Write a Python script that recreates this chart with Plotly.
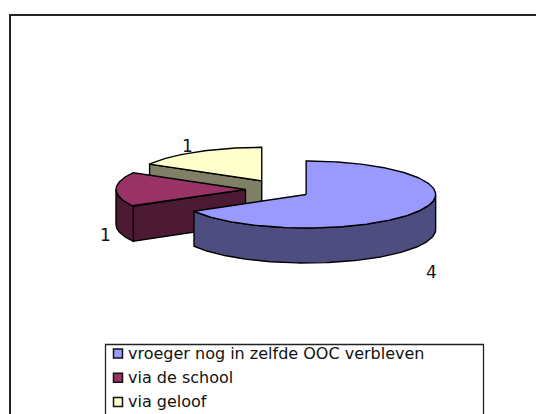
import numpy as np
import plotly.graph_objects as go

categories = ["vroeger nog in zelfde OOC verbleven", "via de school", "via geloof"]
values = [4, 1, 1]
top_colors = ["#9999FF", "#993366", "#FFFFCC"]
side_colors = ["#4D4D80", "#4D1A33", "#808066"]

W, H = 536, 414
CX, CY = 278.0, 189.5      # pie centre in pixels
RX, RY = 129.5, 33.5       # ellipse radii
DEPTH = 35.0               # extrusion
EXPLODE_X, EXPLODE_Y = 32.5, 10.0
LABEL_POS = [(431, 272), (105, 235), (187, 146)]
TEXT = "#111111"
FONT = "DejaVu Sans"

fig = go.Figure()


def poly(xs, ys, fill):
    fig.add_trace(go.Scatter(x=xs, y=ys, mode="lines", fill="toself", fillcolor=fill,
                             line=dict(color="#000000", width=1.4), hoverinfo="skip",
                             showlegend=False))


def rim(ox, oy, a, b, dy=0.0):
    t = np.radians(np.linspace(a, b, max(int(abs(b - a)) + 1, 2)))
    return ox + RX * np.sin(t), oy - RY * np.cos(t) + dy


total = sum(values)
edges = np.concatenate([[0], np.cumsum(values)]) * 360.0 / total
order = list(range(len(values)))[::-1]  # back slices first
for i in order:
    a, b = edges[i], edges[i + 1]
    mid = np.radians((a + b) / 2)
    ox = CX + EXPLODE_X * np.sin(mid)
    oy = CY - EXPLODE_Y * np.cos(mid)

    # radial wall on the start side, if it faces the viewer
    if np.cos(np.radians(a - 90)) < -1e-6:
        rx, ry = rim(ox, oy, a, a)
        poly([ox, rx[0], rx[0], ox, ox], [oy, ry[0], ry[0] + DEPTH, oy + DEPTH, oy], side_colors[i])

    # front curved wall
    lo, hi = max(a, 90.0), min(b, 270.0)
    if hi > lo:
        x1, y1 = rim(ox, oy, lo, hi)
        x2, y2 = rim(ox, oy, hi, lo, DEPTH)
        poly(np.r_[x1, x2, x1[0]], np.r_[y1, y2, y1[0]], side_colors[i])

    # top face
    xt, yt = rim(ox, oy, a, b)
    poly(np.r_[ox, xt, ox], np.r_[oy, yt, oy], top_colors[i])

annotations = []
for v, (lx, ly) in zip(values, LABEL_POS):
    annotations.append(dict(x=lx, y=ly, text=str(v), showarrow=False,
                            font=dict(family=FONT, size=17, color=TEXT)))

# legend
LEG_X0, LEG_X1, LEG_Y0 = 105, 483, 344
ROW0, ROW_STEP = 353.5, 24.2
frame_line = dict(color="#222222", width=2)
shapes = [
    dict(type="line", x0=10, y0=15, x1=540, y1=15, line=frame_line),
    dict(type="line", x0=10, y0=14, x1=10, y1=430, line=frame_line),
    dict(type="rect", x0=LEG_X0 + .5, y0=LEG_Y0 + .5, x1=LEG_X1 + .5, y1=430,
         line=dict(color="#222222", width=1.3)),
]
for k, name in enumerate(categories):
    y = ROW0 + k * ROW_STEP
    shapes.append(dict(type="rect", x0=113.5, x1=122.5, y0=y - 4.5, y1=y + 4.5,
                       fillcolor=top_colors[k], line=dict(color="#111111", width=1.5)))
    annotations.append(dict(x=126, y=y, text=name, showarrow=False, xanchor="left",
                            font=dict(family=FONT, size=16, color=TEXT)))

fig.update_layout(
    width=W, height=H, margin=dict(l=0, r=0, t=0, b=0),
    paper_bgcolor="#FFFFFF", plot_bgcolor="#FFFFFF", showlegend=False,
    xaxis=dict(range=[0, W], visible=False, fixedrange=True),
    yaxis=dict(range=[H, 0], visible=False, fixedrange=True),
    shapes=shapes, annotations=annotations,
)
fig.write_html("out.html", config=dict(displayModeBar=False),
               post_script="document.body.style.margin='0';document.documentElement.style.overflow='hidden';")
